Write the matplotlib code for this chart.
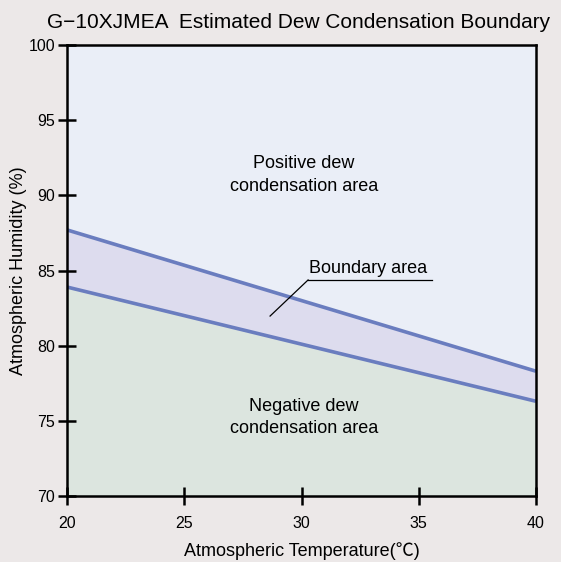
import matplotlib
matplotlib.use("Agg")
import matplotlib.pyplot as plt
import numpy as np

plt.rcParams['font.family'] = ['Liberation Sans', 'Noto Sans CJK JP', 'DejaVu Sans']

temps = [20, 40]
upper = [87.7, 78.3]
lower = [83.9, 76.3]
xticks = [20, 25, 30, 35, 40]
yticks = [70, 75, 80, 85, 90, 95, 100]

bg = '#ece8e8'
fig = plt.figure(figsize=(5.61, 5.62), dpi=100, facecolor=bg)
ax = fig.add_axes([67/561, 66/562, 469/561, 451/562])
ax.set_xlim(20, 40)
ax.set_ylim(70, 100)

ax.fill_between(temps, upper, [100, 100], color='#eaeef7', lw=0)
ax.fill_between(temps, lower, upper, color='#dddcee', lw=0)
ax.fill_between(temps, [70, 70], lower, color='#dce5df', lw=0)
ax.plot(temps, upper, color='#6a7dbf', lw=2.6, solid_capstyle='butt')
ax.plot(temps, lower, color='#6a7dbf', lw=2.6, solid_capstyle='butt')

for s in ax.spines.values():
    s.set_linewidth(1.8)
ax.set_xticks(xticks)
ax.set_yticks(yticks)
ax.tick_params(direction='inout', length=13, width=1.8, labelsize=11.5)
ax.tick_params(axis='x', pad=8)
ax.tick_params(axis='y', pad=2)

ax.set_xlabel('Atmospheric Temperature(℃)', fontsize=13, labelpad=8)
ax.set_ylabel('Atmospheric Humidity (%)', fontsize=13, labelpad=1)
fig.text(299/561, 1 - 22/562, 'G\u221210XJMEA  Estimated Dew Condensation Boundary',
         ha='center', va='center', fontsize=15)

ax.text(30.1, 91.35, 'Positive dew\ncondensation area', ha='center', va='center',
        fontsize=13, linespacing=1.4)
ax.text(30.1, 75.2, 'Negative dew\ncondensation area', ha='center', va='center',
        fontsize=13, linespacing=1.4)
ax.text(30.32, 85.1, 'Boundary area', ha='left', va='center', fontsize=13)
ax.plot([30.28, 35.57], [84.37, 84.37], color='black', lw=0.9)
ax.plot([28.66, 30.28], [81.97, 84.37], color='black', lw=0.9)

fig.savefig('out.png', dpi=100, facecolor=bg)
